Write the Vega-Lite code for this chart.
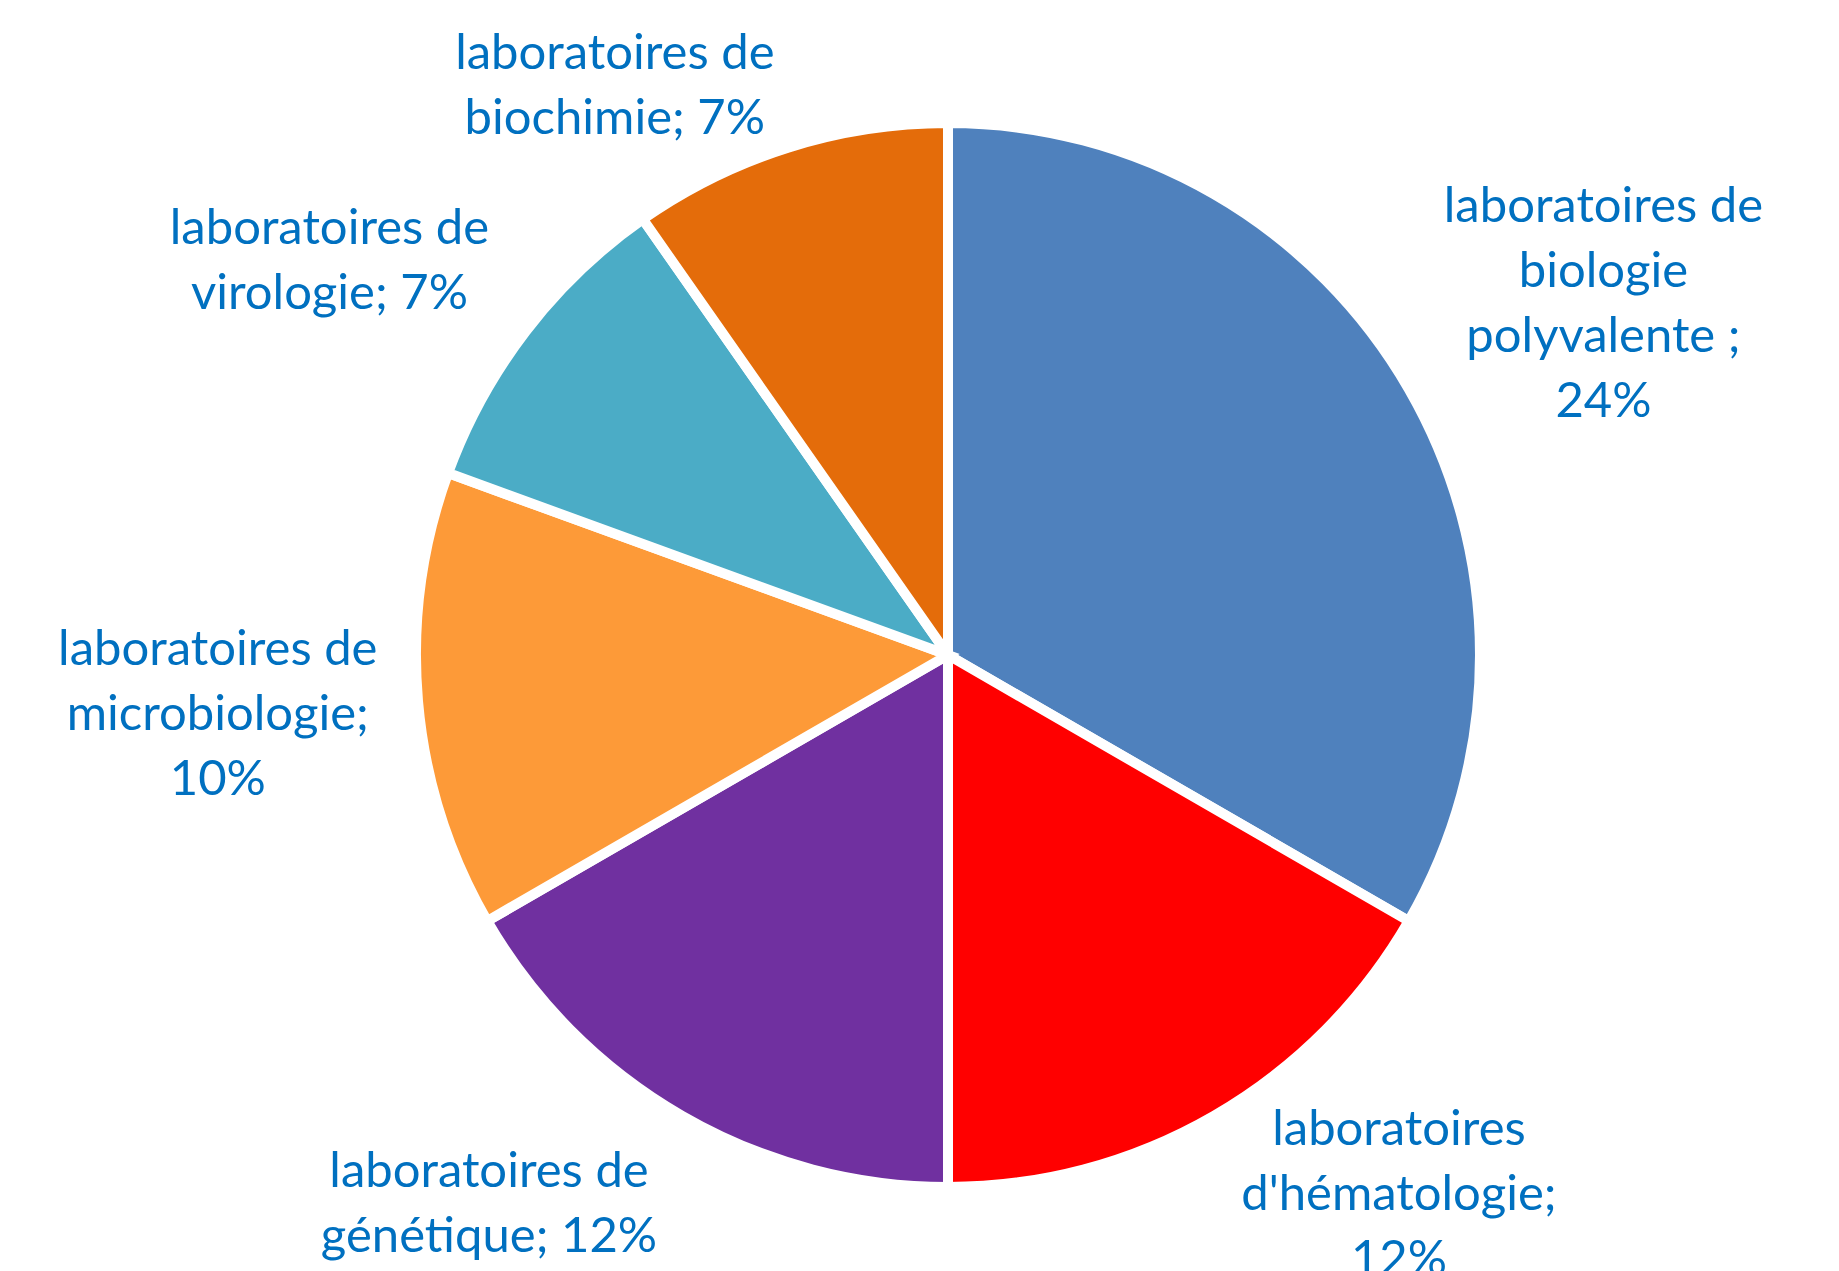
{
  "$schema": "https://vega.github.io/schema/vega-lite/v6.json",
  "autosize": {"type": "none"},
  "padding": {"left": 57, "top": 39, "right": 0, "bottom": 0},
  "width": 1782,
  "height": 1232,
  "background": "white",
  "config": {"view": {"stroke": null}},
  "data": {
    "values": [
      {"order": 1, "cat": "laboratoires de biologie polyvalente", "value": 24, "label": "laboratoires de\nbiologie\npolyvalente ;\n24%"},
      {"order": 2, "cat": "laboratoires d'hématologie", "value": 12, "label": "laboratoires\nd'hématologie;\n12%"},
      {"order": 3, "cat": "laboratoires de génétique", "value": 12, "label": "laboratoires de\ngénétique; 12%"},
      {"order": 4, "cat": "laboratoires de microbiologie", "value": 10, "label": "laboratoires de\nmicrobiologie;\n10%"},
      {"order": 5, "cat": "laboratoires de virologie", "value": 7, "label": "laboratoires de\nvirologie; 7%"},
      {"order": 6, "cat": "laboratoires de biochimie", "value": 7, "label": "laboratoires de\nbiochimie; 7%"}
    ]
  },
  "encoding": {
    "theta": {"field": "value", "type": "quantitative", "stack": true},
    "order": {"field": "order", "type": "quantitative"}
  },
  "layer": [
    {
      "mark": {"type": "arc", "outerRadius": 532, "stroke": "white", "strokeWidth": 10},
      "encoding": {
        "color": {
          "field": "cat",
          "type": "nominal",
          "legend": null,
          "scale": {
            "domain": ["laboratoires de biologie polyvalente", "laboratoires d'hématologie", "laboratoires de génétique", "laboratoires de microbiologie", "laboratoires de virologie", "laboratoires de biochimie"],
            "range": ["#4F81BD", "#FF0000", "#7030A0", "#FD9A38", "#4BACC6", "#E46C0A"]
          }
        }
      }
    },
    {
      "mark": {"type": "text", "radius": 743, "dx": 12, "dy": -77, "font": "Lato", "fontSize": 49, "lineHeight": 65, "lineBreak": "\n", "color": "#0070C0", "align": "center", "baseline": "middle"},
      "encoding": {"text": {"condition": {"test": "datum.order === 1", "field": "label"}, "value": ""}}
    },
    {
      "mark": {"type": "text", "radius": 704, "dx": 99, "dy": -135, "font": "Lato", "fontSize": 49, "lineHeight": 65, "lineBreak": "\n", "color": "#0070C0", "align": "center", "baseline": "middle"},
      "encoding": {"text": {"condition": {"test": "datum.order === 2", "field": "label"}, "value": ""}}
    },
    {
      "mark": {"type": "text", "radius": 716, "dx": -101, "dy": -103, "font": "Lato", "fontSize": 49, "lineHeight": 65, "lineBreak": "\n", "color": "#0070C0", "align": "center", "baseline": "middle"},
      "encoding": {"text": {"condition": {"test": "datum.order === 3", "field": "label"}, "value": ""}}
    },
    {
      "mark": {"type": "text", "radius": 733, "dx": 0, "dy": -69, "font": "Lato", "fontSize": 49, "lineHeight": 65, "lineBreak": "\n", "color": "#0070C0", "align": "center", "baseline": "middle"},
      "encoding": {"text": {"condition": {"test": "datum.order === 4", "field": "label"}, "value": ""}}
    },
    {
      "mark": {"type": "text", "radius": 733, "dx": -37, "dy": 20, "font": "Lato", "fontSize": 49, "lineHeight": 65, "lineBreak": "\n", "color": "#0070C0", "align": "center", "baseline": "middle"},
      "encoding": {"text": {"condition": {"test": "datum.order === 5", "field": "label"}, "value": ""}}
    },
    {
      "mark": {"type": "text", "radius": 659, "dx": -135, "dy": 27, "font": "Lato", "fontSize": 49, "lineHeight": 65, "lineBreak": "\n", "color": "#0070C0", "align": "center", "baseline": "middle"},
      "encoding": {"text": {"condition": {"test": "datum.order === 6", "field": "label"}, "value": ""}}
    }
  ]
}
